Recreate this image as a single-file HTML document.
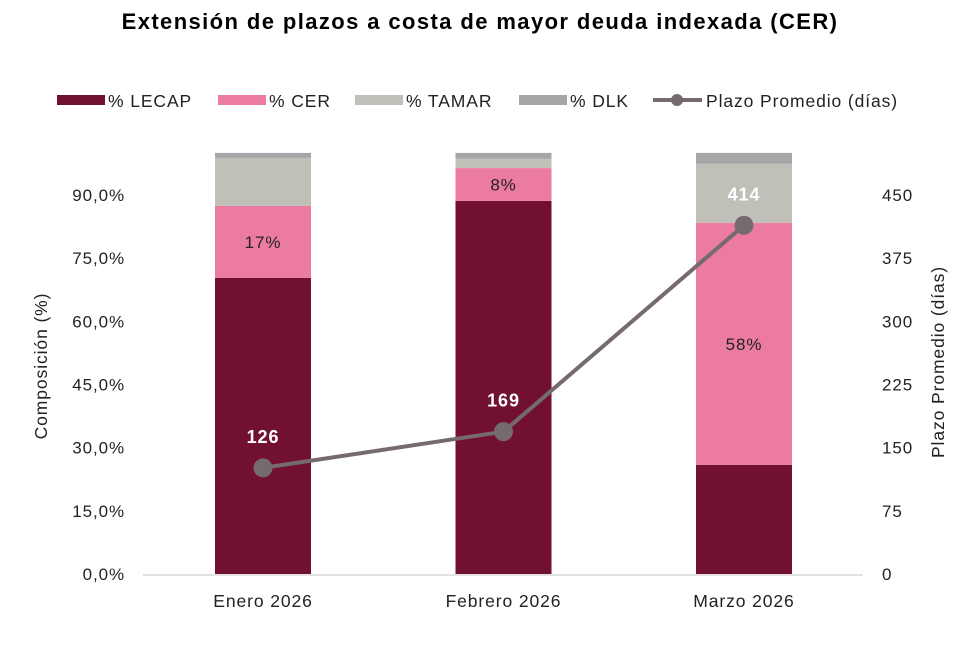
<!DOCTYPE html>
<html><head><meta charset="utf-8"><style>
body{margin:0;background:#fff;font-family:"Liberation Sans",sans-serif;}
svg text{font-family:"Liberation Sans",sans-serif;letter-spacing:0.9px;}
</style></head><body>
<svg id="c" width="979" height="643" xmlns="http://www.w3.org/2000/svg">
<text x="480" y="29" text-anchor="middle" font-size="22" font-weight="bold" fill="#000" style="letter-spacing:1.4px">Extensión de plazos a costa de mayor deuda indexada (CER)</text>
<g id="legend"></g>
<g id="yl"></g>
<g id="yr"></g>
<g id="bars"></g>
<g id="line"></g>
<text transform="translate(47,366) rotate(-90)" text-anchor="middle" font-size="17.5" fill="#222">Composición (%)</text>
<text transform="translate(944,362) rotate(-90)" text-anchor="middle" font-size="17.5" fill="#222">Plazo Promedio (días)</text>
</svg>
<script>
const categories=["Enero 2026","Febrero 2026","Marzo 2026"];
const lecap=[70.3,88.6,25.9];
const cer=[17.1,7.8,57.5];
const tamar=[11.4,2.2,14.0];
const dlk=[1.2,1.4,2.6];
const cerLabels=["17%","8%","58%"];
const plazo=[126,169,414];
const leftTicks=["0,0%","15,0%","30,0%","45,0%","60,0%","75,0%","90,0%"];
const rightTicks=["0","75","150","225","300","375","450"];
const NS="http://www.w3.org/2000/svg";
const y0=574, pxPct=4.211, pxDay=0.8422;
const yP=v=>y0-v*pxPct, yD=v=>y0-v*pxDay;
const xC=i=>263+i*240.5;
function mk(p,t,a){const e=document.createElementNS(NS,t);for(const k in a)e.setAttribute(k,a[k]);document.getElementById(p).appendChild(e);return e;}
leftTicks.forEach((t,i)=>{const e=mk('yl','text',{x:125,y:yP(i*15)+6,'text-anchor':'end','font-size':17,fill:'#222'});e.textContent=t;

});
rightTicks.forEach((t,i)=>{const e=mk('yr','text',{x:882,y:yD(i*75)+6,'font-size':17,fill:'#222'});e.textContent=t;

});
const ax=mk('yl','line',{x1:143,x2:863,y1:575,y2:575,stroke:'#d9d9d9','stroke-width':1.5});


const series=[[lecap,'#721032','lecap'],[cer,'#EC7BA1','cer'],[tamar,'#C0C0B8','tamar'],[dlk,'#A6A6A6','dlk']];
categories.forEach((c,i)=>{let acc=0;
series.forEach(([d,col,n])=>{const r=mk('bars','rect',{x:xC(i)-48,y:yP(acc+d[i]),width:96,height:d[i]*pxPct,fill:col});


if(n==='cer'){const t=mk('bars','text',{x:xC(i),y:yP(acc+d[i]/2)+6,'text-anchor':'middle','font-size':17,fill:'#222'});t.textContent=cerLabels[i];

}
acc+=d[i];});
const t=mk('bars','text',{x:xC(i),y:607,'text-anchor':'middle','font-size':17.5,fill:'#222'});t.textContent=c;

});
const pl=mk('line','polyline',{points:plazo.map((v,i)=>xC(i)+','+yD(v)).join(' '),fill:'none',stroke:'#756A6E','stroke-width':4});


plazo.forEach((v,i)=>{const c=mk('line','circle',{cx:xC(i),cy:yD(v),r:9.5,fill:'#756A6E'});


const t=mk('line','text',{x:xC(i),y:yD(v)-25,'text-anchor':'middle','font-size':18,'font-weight':'bold',fill:'#fff'});t.textContent=v;

});
const leg=[['% LECAP','#721032',57],['% CER','#EC7BA1',218],['% TAMAR','#C0C0B8',355],['% DLK','#A6A6A6',519]];
leg.forEach(([n,col,x])=>{const r=mk('legend','rect',{x:x,y:95,width:48,height:10,fill:col});


const t=mk('legend','text',{x:x+51,y:107,'font-size':17.5,fill:'#222'});t.textContent=n;

});
const ll=mk('legend','line',{x1:653,x2:702,y1:100,y2:100,stroke:'#756A6E','stroke-width':4});


const lc=mk('legend','circle',{cx:677,cy:100,r:6,fill:'#756A6E'});


const lt=mk('legend','text',{x:706,y:107,'font-size':17.5,fill:'#222'});lt.textContent='Plazo Promedio (días)';


</script>
</body></html>
